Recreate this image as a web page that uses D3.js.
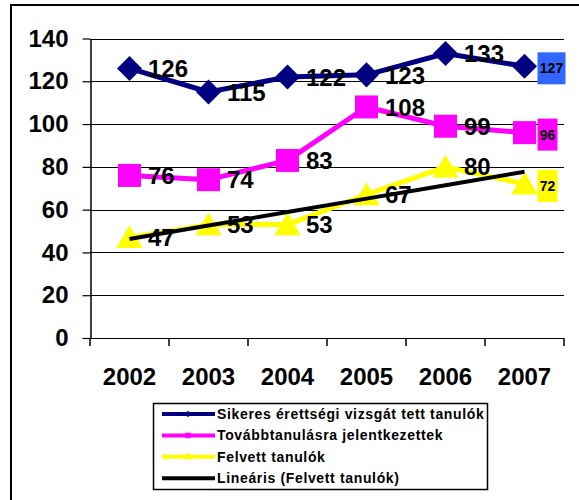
<!DOCTYPE html>
<html>
<head>
<meta charset="utf-8">
<script src="https://cdn.jsdelivr.net/npm/d3@7"></script>
<style>
  html, body { margin: 0; padding: 0; background: #fff; }
  svg { display: block; font-family: "Liberation Sans", Arial, sans-serif; }
</style>
</head>
<body>
<svg id="chart" width="579" height="500"></svg>
<script>
// Years on the category axis
const years = ["2002", "2003", "2004", "2005", "2006", "2007"];
// Students who passed the final exam
const passed = [126, 115, 122, 123, 133, 127];
// Students who applied for further studies
const applied = [76, 74, 83, 108, 99, 96];
// Students admitted
const admitted = [47, 53, 53, 67, 80, 72];
// Value-axis ticks
const yTicks = [0, 20, 40, 60, 80, 100, 120, 140];
// Legend entries
const legendLabels = [
  "Sikeres érettségi vizsgát tett tanulók",
  "Továbbtanulásra jelentkezettek",
  "Felvett tanulók",
  "Lineáris (Felvett tanulók)"
];

const svg = d3.select("#chart");

// Outer frame (top and left edges)
svg.append("line").attr("x1", 10).attr("x2", 579).attr("y1", 5).attr("y2", 5)
  .attr("stroke", "#000").attr("stroke-width", 2);
svg.append("line").attr("x1", 11).attr("x2", 11).attr("y1", 4).attr("y2", 500)
  .attr("stroke", "#000").attr("stroke-width", 2);

const x = d3.scaleBand().domain(years).range([90, 564]).padding(0);
const y = d3.scaleLinear().domain([0, 140]).range([338, 38.5]);
const cx = d => x(d) + x.bandwidth() / 2;

// Horizontal gridlines
svg.append("g").selectAll("line").data(yTicks).join("line")
  .attr("x1", 90).attr("x2", 564)
  .attr("y1", d => Math.round(y(d)) + 0.5).attr("y2", d => Math.round(y(d)) + 0.5)
  .attr("stroke", "#000").attr("stroke-width", 1.2);

// Value axis
const yAxis = svg.append("g").attr("transform", "translate(90.5,0)")
  .call(d3.axisLeft(y).tickValues(yTicks).tickSize(8).tickSizeOuter(0).tickPadding(14));
yAxis.select(".domain").attr("stroke", "#000").attr("stroke-width", 1.5);
yAxis.selectAll(".tick line").attr("stroke", "#000").attr("stroke-width", 1.2);
yAxis.selectAll(".tick text").attr("font-size", 24).attr("font-weight", "bold")
  .attr("fill", "#000").attr("font-family", "Liberation Sans, Arial, sans-serif");

// Category axis: tick marks at band boundaries, labels at band centres
const bounds = years.map(d => x(d)).concat([x.range()[1]]);
svg.append("g").selectAll("line").data(bounds).join("line")
  .attr("x1", d => d).attr("x2", d => d)
  .attr("y1", 338).attr("y2", 346)
  .attr("stroke", "#000").attr("stroke-width", 1.5);
const xAxis = svg.append("g").attr("transform", "translate(0,338)")
  .call(d3.axisBottom(x).tickSize(0).tickPadding(30));
xAxis.select(".domain").remove();
xAxis.selectAll(".tick text").attr("font-size", 24).attr("font-weight", "bold")
  .attr("fill", "#000").attr("font-family", "Liberation Sans, Arial, sans-serif");

const line = d3.line().x((d, i) => cx(years[i])).y(d => y(d));

const diamond = d3.symbol().type(d3.symbolSquare).size(313);
const square = d3.symbol().type(d3.symbolSquare).size(529);
const triangle = d3.symbol().type(d3.symbolTriangle).size(300);

const series = [
  { values: passed, color: "#000080", sym: diamond, rot: 45, dy: 0 },
  { values: applied, color: "#FF00FF", sym: square, rot: 0, dy: 0 },
  { values: admitted, color: "#FFFF00", sym: triangle, rot: 0, dy: 3 }
];

series.forEach(s => {
  svg.append("path").datum(s.values).attr("d", line)
    .attr("fill", "none").attr("stroke", s.color).attr("stroke-width", 5)
    .attr("stroke-linejoin", "round");
  svg.append("g").selectAll("path").data(s.values).join("path")
    .attr("d", s.sym())
    .attr("transform", (d, i) => `translate(${cx(years[i])},${y(d) + s.dy}) rotate(${s.rot})`)
    .attr("fill", s.color);
});

// Linear trend of admitted students (least squares)
const n = admitted.length;
const xs = d3.range(1, n + 1);
const mx = d3.mean(xs), my = d3.mean(admitted);
const slope = d3.sum(xs, (v, i) => (v - mx) * (admitted[i] - my)) / d3.sum(xs, v => (v - mx) ** 2);
const icpt = my - slope * mx;
const trend = xs.map(v => icpt + slope * v);
svg.append("path").datum(trend).attr("d", line)
  .attr("fill", "none").attr("stroke", "#000").attr("stroke-width", 4);

// Data labels (all but the last year)
series.forEach(s => {
  svg.append("g").selectAll("text").data(s.values.slice(0, n - 1)).join("text")
    .attr("x", (d, i) => cx(years[i]) + 18.5)
    .attr("y", d => y(d))
    .attr("dy", "0.36em")
    .attr("font-size", 24).attr("font-weight", "bold").attr("fill", "#000")
    .text(d => d);
});

// Boxed labels for the last year
const boxW = [28, 20, 20];
const boxFill = ["#3366FF", "#FF00FF", "#FFFF00"];
series.forEach((s, k) => {
  const v = s.values[n - 1];
  const bx = cx(years[n - 1]) + 13;
  const by = y(v) + 2;
  svg.append("rect").attr("x", bx).attr("y", by - 16)
    .attr("width", boxW[k]).attr("height", 32).attr("fill", boxFill[k]);
  svg.append("text").attr("x", bx + boxW[k] / 2).attr("y", by).attr("dy", "0.36em")
    .attr("text-anchor", "middle").attr("font-size", 14).attr("font-weight", "bold")
    .attr("fill", "#000").text(v);
});

// Legend
const lg = svg.append("g");
lg.append("rect").attr("x", 153.5).attr("y", 403.5).attr("width", 334).attr("height", 86)
  .attr("fill", "#fff").attr("stroke", "#000").attr("stroke-width", 1.5);
const legendColors = ["#000080", "#FF00FF", "#FFFF00", "#000"];
const legendSyms = [
  d3.symbol().type(d3.symbolSquare).size(20),
  d3.symbol().type(d3.symbolSquare).size(30),
  d3.symbol().type(d3.symbolTriangle).size(30),
  null
];
legendLabels.forEach((t, i) => {
  const ry = 414 + i * 21.4;
  lg.append("line").attr("x1", 162).attr("x2", 215).attr("y1", ry).attr("y2", ry)
    .attr("stroke", legendColors[i]).attr("stroke-width", 4);
  if (legendSyms[i]) {
    lg.append("path").attr("d", legendSyms[i]())
      .attr("transform", `translate(188,${ry}) rotate(${i === 0 ? 45 : 0})`)
      .attr("fill", legendColors[i]);
  }
  lg.append("text").attr("x", 217).attr("y", ry).attr("dy", "0.36em")
    .attr("font-size", 14).attr("font-weight", "bold").attr("letter-spacing", 0.65)
    .attr("fill", "#000").text(t);
});
</script>
</body>
</html>
